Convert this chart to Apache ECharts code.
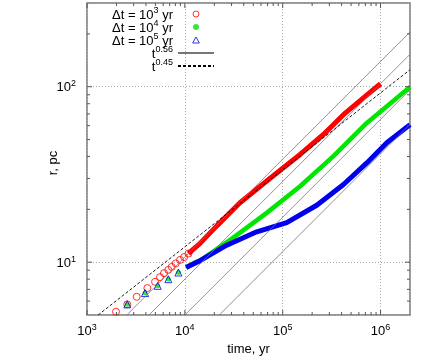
<!DOCTYPE html>
<html><head><meta charset="utf-8">
<script src="https://cdn.jsdelivr.net/npm/echarts@6/dist/echarts.min.js"></script>
<style>html,body{margin:0;padding:0;background:#fff}#c{width:436px;height:359px}</style>
</head><body><div id="c"></div>
<script>
// ---- axis ticks ----
const xTicks = [1e3, 1e4, 1e5, 1e6];
const xMinorTicks = [2e3,3e3,4e3,5e3,6e3,7e3,8e3,9e3, 2e4,3e4,4e4,5e4,6e4,7e4,8e4,9e4, 2e5,3e5,4e5,5e5,6e5,7e5,8e5,9e5];
const yTicks = [10, 100];
const yMinorTicks = [6,7,8,9, 20,30,40,50,60,70,80,90, 200];
const X_MIN = 1e3, X_MAX = 2e6, Y_MIN = 5, Y_MAX = 300;

// ---- dt = 1e3 yr (red) ----
const redEarlyT = [1980, 2580, 3220, 4140, 4960, 5570, 6120, 6770, 7340, 8070, 8930, 9820, 10900];
const redEarlyR = [5.22, 5.75, 6.35, 7.12, 7.73, 8.22, 8.66, 9.04, 9.40, 9.84, 10.3, 10.7, 11.2];
const redBandT = [10900, 11900, 14300, 21200, 36600, 68700, 101600, 150600, 260700, 417500, 668700, 1000000];
const redBandR = [11.2, 11.7, 12.8, 16.1, 21.8, 29.0, 34.5, 41.1, 53.4, 69.3, 86.3, 104];

// ---- dt = 1e4 yr (green) ----
const greenEarlyT = [2580, 3920, 5280, 6780, 8590];
const greenEarlyR = [5.75, 6.67, 7.33, 8.0, 8.73];
const greenBandT = [10300, 12700, 14300, 31300, 68700, 150600, 330000, 724000, 2000000];
const greenBandR = [9.33, 9.96, 10.2, 13.8, 19.1, 27.1, 40.2, 62.2, 99.5];

// ---- dt = 1e5 yr (blue) ----
const blueEarlyT = [2580, 3920, 5280, 6780, 8590];
const blueEarlyR = [5.75, 6.67, 7.33, 8.0, 8.73];
const blueBandT = [10300, 14300, 26800, 54300, 110000, 223000, 418000, 724000, 1160000, 2000000];
const blueBandR = [9.33, 10.2, 12.5, 14.9, 16.8, 21.1, 27.7, 36.8, 47.9, 60.8];

// ---- guide lines ----
const guide56StartT = [2550, 4300, 10000, 22500];
const guide56StartR = [5, 5, 5, 5];
const guide56EndT = [2e6, 2e6, 2e6, 2e6];
const guide56EndR = [205, 153, 96, 61];
const guide45T = [1300, 2e6];
const guide45R = [5, 125];

const RED = '#ff0000', GREEN = '#00e600', BLUE = '#0000ee';
const FONT = 'Liberation Sans';
const zip = (a, b) => a.map((v, i) => [v, b[i]]);

const legendText = {
  dt3: '{b|Δt = 10}{s|3}{b| yr}',
  dt4: '{b|Δt = 10}{s|4}{b| yr}',
  dt5: '{b|Δt = 10}{s|5}{b| yr}',
  t056: '{b|t}{s|0.56}',
  t045: '{b|t}{s|0.45}'
};
const rich = {
  b: {fontFamily: FONT, fontSize: 13, color: '#000', lineHeight: 16, verticalAlign: 'bottom'},
  s: {fontFamily: FONT, fontSize: 9, color: '#000', lineHeight: 9, verticalAlign: 'top'}
};
const richAxis = {
  b: {fontFamily: FONT, fontSize: 13, color: '#000', lineHeight: 15, verticalAlign: 'bottom'},
  s: {fontFamily: FONT, fontSize: 9, color: '#000', lineHeight: 9, verticalAlign: 'top'}
};
function powLabel(v) {
  const e = Math.round(Math.log10(v));
  if (Math.abs(Math.pow(10, e) - v) > 1e-6 * v) return '';
  return '{b|10}{s|' + e + '}';
}

const TICK = '#555';
function tickLine(x1, y1, x2, y2) {
  return {type: 'line', shape: {x1, y1, x2, y2}, style: {stroke: TICK, lineWidth: 1}};
}

const series = [];
series.push({name: 'dt3', type: 'scatter', data: zip(redEarlyT, redEarlyR), symbol: 'circle', symbolSize: 7,
  itemStyle: {color: 'transparent', borderColor: RED, borderWidth: 1}});
series.push({name: 'dt3', type: 'line', data: zip(redBandT, redBandR), symbol: 'none',
  lineStyle: {color: RED, width: 5}});
series.push({name: 'dt4', type: 'scatter', data: zip(greenEarlyT, greenEarlyR), symbol: 'circle', symbolSize: 5,
  itemStyle: {color: GREEN}});
series.push({name: 'dt4', type: 'line', data: zip(greenBandT, greenBandR), symbol: 'none',
  lineStyle: {color: GREEN, width: 4.5}});
series.push({name: 'dt5', type: 'scatter', data: zip(blueEarlyT, blueEarlyR), symbol: 'triangle', symbolSize: 7,
  itemStyle: {color: 'transparent', borderColor: BLUE, borderWidth: 1}});
series.push({name: 'dt5', type: 'line', data: zip(blueBandT, blueBandR), symbol: 'none',
  lineStyle: {color: BLUE, width: 5}});
for (let i = 0; i < guide56StartT.length; i++) {
  series.push({name: 't056', type: 'line', symbol: 'none',
    data: [[guide56StartT[i], guide56StartR[i]], [guide56EndT[i], guide56EndR[i]]],
    lineStyle: {color: '#777', width: 0.8}});
}
series.push({name: 't045', type: 'line', symbol: 'none', data: zip(guide45T, guide45R),
  lineStyle: {color: '#000', width: 0.9, type: [3, 2]}});

series.push({type: 'custom', name: 'xticks', silent: true, clip: false, z: 6,
  data: xTicks.map(v => [v, Y_MIN, 1]).concat(xMinorTicks.map(v => [v, Y_MIN, 0])),
  encode: {x: 0, y: 1},
  renderItem: (p, api) => {
    const v = api.value(0), len = api.value(2) ? 5 : 3;
    const b = api.coord([v, Y_MIN]), t = api.coord([v, Y_MAX]);
    return {type: 'group', children: [tickLine(b[0], b[1], b[0], b[1] - len), tickLine(t[0], t[1], t[0], t[1] + len)]};
  }});
series.push({type: 'custom', name: 'yticks', silent: true, clip: false, z: 6,
  data: yTicks.map(v => [X_MIN, v, 1]).concat(yMinorTicks.map(v => [X_MIN, v, 0])),
  encode: {x: 0, y: 1},
  renderItem: (p, api) => {
    const v = api.value(1), len = api.value(2) ? 5 : 3;
    const l = api.coord([X_MIN, v]), r = api.coord([X_MAX, v]);
    return {type: 'group', children: [tickLine(l[0], l[1], l[0] + len, l[1]), tickLine(r[0], r[1], r[0] - len, r[1])]};
  }});

const chart = echarts.init(document.getElementById('c'), null, {renderer: 'canvas'});
chart.setOption({
  animation: false,
  backgroundColor: '#fff',
  grid: {left: 87, right: 26, top: 3, bottom: 44, show: true, borderColor: '#777', borderWidth: 1.5,
    backgroundColor: 'transparent', containLabel: false, outerBoundsMode: 'none'},
  graphic: [{
    type: 'text', x: 53, y: 163, rotation: Math.PI / 2, silent: true,
    style: {text: 'r, pc', fontFamily: FONT, fontSize: 13, fill: '#000', align: 'center', verticalAlign: 'middle'}
  }],
  legend: {
    orient: 'vertical', right: 221, top: 6, padding: 0, itemGap: -3, itemWidth: 36, itemHeight: 6,
    align: 'right', selectedMode: false, symbolKeepAspect: true,
    formatter: n => legendText[n],
    textStyle: {fontFamily: FONT, fontSize: 13, color: '#000', rich: rich},
    data: [
      {name: 'dt3', icon: 'circle', itemStyle: {color: '#fff', borderColor: RED, borderWidth: 1}},
      {name: 'dt4', icon: 'circle', itemStyle: {color: GREEN, borderWidth: 0}},
      {name: 'dt5', icon: 'path://M5,0L10,9L0,9Z', itemStyle: {color: '#fff', borderColor: BLUE, borderWidth: 1}},
      {name: 't056', itemStyle: {color: 'transparent', borderColor: 'transparent', borderWidth: 0, opacity: 0}},
      {name: 't045', itemStyle: {color: 'transparent', borderColor: 'transparent', borderWidth: 0, opacity: 0}}
    ]
  },
  xAxis: {
    type: 'log', logBase: 10, min: X_MIN, max: X_MAX,
    name: 'time, yr', nameLocation: 'middle', nameGap: 27,
    nameTextStyle: {fontFamily: FONT, fontSize: 13, color: '#000'},
    axisLine: {show: false}, axisTick: {show: false}, minorTick: {show: false},
    axisLabel: {margin: 8, formatter: powLabel, rich: richAxis, showMinLabel: true, showMaxLabel: false},
    splitLine: {show: true, lineStyle: {color: '#aaa', width: 1, type: [1, 2]}}
  },
  yAxis: {
    type: 'log', logBase: 10, min: Y_MIN, max: Y_MAX,
    axisLine: {show: false}, axisTick: {show: false}, minorTick: {show: false},
    axisLabel: {margin: 11, formatter: powLabel, rich: richAxis, showMinLabel: false, showMaxLabel: false},
    splitLine: {show: true, lineStyle: {color: '#aaa', width: 1, type: [1, 2]}}
  },
  series: series
});
</script></body></html>
